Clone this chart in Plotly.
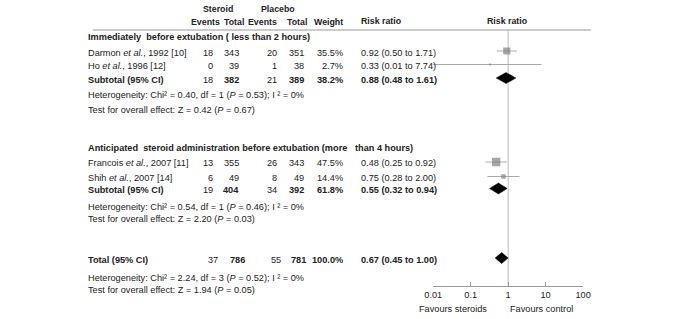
import plotly.graph_objects as go
import math

W, H = 685, 319

# ---------------- data ----------------
studies = ["Darmon <i>et al.</i>, 1992 [10]", "Ho <i>et al.</i>, 1996 [12]",
           "Francois <i>et al.</i>, 2007 [11]", "Shih <i>et al.</i>, 2007 [14]"]
st_events = [18, 0, 13, 6]
st_total = [343, 39, 355, 49]
pl_events = [20, 1, 26, 8]
pl_total = [351, 38, 343, 49]
weights = [35.5, 2.7, 47.5, 14.4]
rr = [0.92, 0.33, 0.48, 0.75]
rr_lo = [0.50, 0.01, 0.25, 0.28]
rr_hi = [1.71, 7.74, 0.92, 2.00]

groups = ["Immediately&nbsp; before extubation ( less than 2 hours)",
          "Anticipated&nbsp; steroid administration before extubation (more&nbsp;&nbsp; than 4 hours)"]
sub_st_events = [18, 19]
sub_st_total = [382, 404]
sub_pl_events = [21, 34]
sub_pl_total = [389, 392]
sub_weights = [38.2, 61.8]
sub_rr = [0.88, 0.55]
sub_lo = [0.48, 0.32]
sub_hi = [1.61, 0.94]
sub_het = ["Heterogeneity: Chi² = 0.40, df = 1 (<i>P</i> = 0.53); I ² = 0%",
           "Heterogeneity: Chi² = 0.54, df = 1 (<i>P</i> = 0.46); I ² = 0%"]
sub_test = ["Test for overall effect: Z = 0.42 (<i>P</i> = 0.67)",
            "Test for overall effect: Z = 2.20 (<i>P</i> = 0.03)"]

tot_st_events, tot_st_total, tot_pl_events, tot_pl_total = 37, 786, 55, 781
tot_weight = 100.0
tot_rr, tot_lo, tot_hi = 0.67, 0.45, 1.00
tot_het = "Heterogeneity: Chi² = 2.24, df = 3 (<i>P</i> = 0.52); I ² = 0%"
tot_test = "Test for overall effect: Z = 1.94 (<i>P</i> = 0.05)"

tick_vals = [0.01, 0.1, 1, 10, 100]
tick_text = ["0.01", "0.1", "1", "10", "100"]

# ---------------- layout (pixel positions) ----------------
study_y = [51, 64.5, 162, 176.5]
group_title_y = [37, 148]
sub_y = [78, 188.5]
het_y = [95, 206.5]
test_y = [110, 218.5]
tot_y = 258
tot_het_y, tot_test_y = 278, 290
axis_y = 286
txt_dy = 1.5

x_name = 81
col_r = [209, 236, 275, 302, 343]
col_r_tot = [214, 242, 279, 305, 343]
head_r = [216, 241, 275, 306, 343]
x_rr_text = 361

FONT = "Liberation Sans, Arial, sans-serif"
TXT = "#222222"
FS = 9.2

def px(x):
    return x / W

def py(y):
    return 1 - y / H

ann = []

def text(x, y, s, anchor="left", bold=False, size=FS, color=TXT):
    if bold:
        s = "<b>" + s + "</b>"
    ann.append(dict(x=px(x), y=py(y), xref="paper", yref="paper", text=s,
                    showarrow=False, xanchor=anchor, yanchor="middle",
                    borderpad=0, borderwidth=0,
                    font=dict(family=FONT, size=size, color=color)))

# headers
text(214, 9, "Steroid", "center", True, 8.8)
text(276, 9, "Placebo", "center", True, 8.8)
for lab, xr in zip(["Events", "Total", "Events", "Total", "Weight"], head_r):
    text(xr, 22.5, lab, "right", True, 8.8)
text(x_rr_text, 21, "Risk ratio", "left", True, 8.8)
text(511, 21, "Risk ratio", "center", True, 8.8)

def fmt_rr(a, b, c):
    return f"{a:.2f} ({b:.2f} to {c:.2f})"

for g in range(2):
    text(x_name, group_title_y[g], groups[g], "left", True)
    for i in range(2):
        k = g * 2 + i
        y = study_y[k] + txt_dy
        text(x_name, y, studies[k])
        vals = [str(st_events[k]), str(st_total[k]), str(pl_events[k]), str(pl_total[k]), f"{weights[k]:.1f}%"]
        for v, xr in zip(vals, col_r):
            text(xr, y, v, "right")
        text(x_rr_text, y, fmt_rr(rr[k], rr_lo[k], rr_hi[k]))
    y = sub_y[g] + txt_dy
    text(x_name, y, "Subtotal (95% CI)", "left", True)
    vals = [str(sub_st_events[g]), str(sub_st_total[g]), str(sub_pl_events[g]), str(sub_pl_total[g]), f"{sub_weights[g]:.1f}%"]
    bolds = [False, True, False, True, True]
    for v, xr, b in zip(vals, col_r, bolds):
        text(xr, y, v, "right", b)
    text(x_rr_text, y, fmt_rr(sub_rr[g], sub_lo[g], sub_hi[g]), "left", True)
    text(x_name, het_y[g], sub_het[g])
    text(x_name, test_y[g], sub_test[g])

y = tot_y + txt_dy
text(x_name, y, "Total (95% CI)", "left", True)
vals = [str(tot_st_events), str(tot_st_total), str(tot_pl_events), str(tot_pl_total), f"{tot_weight:.1f}%"]
bolds = [False, True, False, True, True]
for v, xr, b in zip(vals, col_r_tot, bolds):
    text(xr, y, v, "right", b)
text(x_rr_text, y, fmt_rr(tot_rr, tot_lo, tot_hi), "left", True)
text(x_name, tot_het_y, tot_het)
text(x_name, tot_test_y, tot_test)

text(455, 309, "Favours steroids", "center")
text(546, 309, "Favours control", "center")

# ---------------- figure ----------------
fig = go.Figure()

CI_COL = "#aaaaaa"
SQ_COL = "#808080"

for k in range(4):
    fig.add_trace(go.Scatter(x=[rr_lo[k], rr_hi[k]], y=[study_y[k], study_y[k]], mode="lines",
                             line=dict(color=CI_COL, width=1), hoverinfo="skip", showlegend=False))
fig.add_trace(go.Scatter(x=rr, y=study_y, mode="markers",
                         marker=dict(symbol="square", color=SQ_COL,
                                     size=[1.2 * math.sqrt(w) for w in weights],
                                     line=dict(width=0)),
                         hoverinfo="skip", showlegend=False))

def diamond(c, lo, hi, yc, h=5.5):
    fig.add_trace(go.Scatter(x=[lo, c, hi, c, lo], y=[yc, yc - h, yc, yc + h, yc],
                             mode="lines", fill="toself", fillcolor="black",
                             line=dict(color="black", width=0.5),
                             hoverinfo="skip", showlegend=False))

for g in range(2):
    diamond(sub_rr[g], sub_lo[g], sub_hi[g], sub_y[g])
diamond(tot_rr, tot_lo, tot_hi, tot_y)

shapes = [
    dict(type="line", xref="paper", yref="paper", x0=px(86), x1=px(597), y0=py(30), y1=py(30),
         line=dict(color="#999999", width=1)),
    dict(type="line", xref="x", yref="y", x0=1, x1=1, y0=30, y1=axis_y,
         line=dict(color="#bbbbbb", width=1), layer="below"),
]

fig.update_layout(
    width=W, height=H,
    margin=dict(l=0, r=0, t=0, b=0),
    paper_bgcolor="white", plot_bgcolor="white",
    showlegend=False,
    annotations=ann,
    shapes=shapes,
    xaxis=dict(type="log", range=[-2, 2], domain=[px(435), px(588.7)],
               anchor="free", position=py(axis_y),
               showgrid=False, zeroline=False,
               showline=True, linecolor="#999999", linewidth=1,
               ticks="inside", ticklen=4, tickcolor="#999999",
               tickvals=tick_vals, ticktext=tick_text,
               tickfont=dict(family=FONT, size=FS, color=TXT)),
    yaxis=dict(range=[H, 0], domain=[0, 1], visible=False, showgrid=False, zeroline=False),
)

fig.write_html("out.html", config={"displayModeBar": False},
               post_script="document.body.style.margin='0';document.body.style.overflow='hidden';")
